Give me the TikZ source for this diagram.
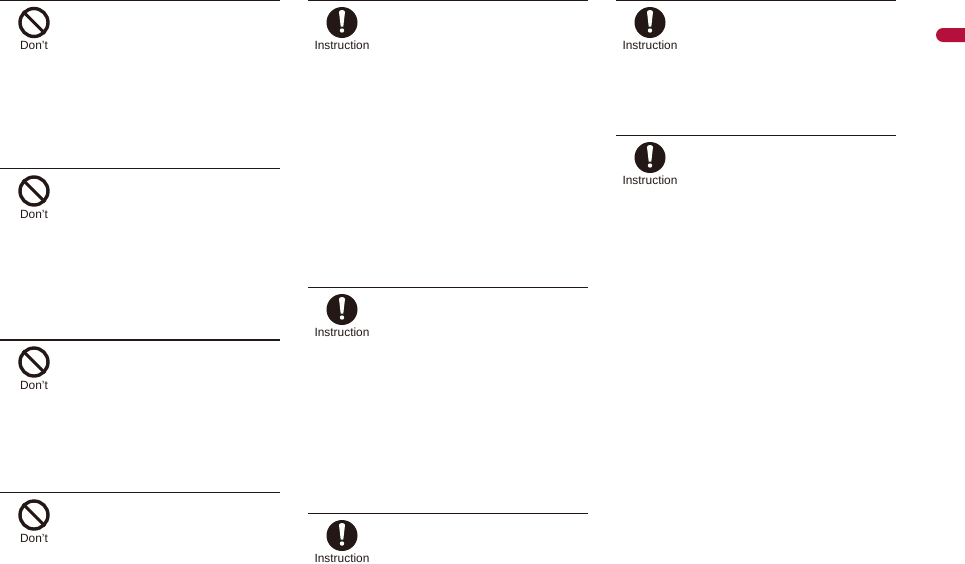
\documentclass[tikz,border=0pt]{standalone}
\usepackage{fontspec}
\setmainfont{Liberation Sans}
\definecolor{ink}{HTML}{231815}
\definecolor{tabred}{HTML}{B50F3C}
\tikzset{
  rule/.style={draw=ink,line width=1pt},
  iconlabel/.style={inner sep=0pt,font=\fontsize{11.9}{13}\selectfont,text=ink,anchor=base},
  ring/.style={circle,draw=ink,line width=3.4pt,minimum size=28pt,inner sep=0pt,fill=white},
  disc/.style={circle,fill=ink,minimum size=31pt,inner sep=0pt},
}
\newcommand{\dontblock}[6]{% name, x0, x1, line y, icon offset, label offset
  \coordinate (#1l) at (#2,#4);
  \coordinate (#1r) at (#3,#4);
  \draw[rule] (#1l) -- (#1r);
  \node[ring] (#1i) at (#2+34,#4+#5) {};
  \draw[ink,line width=3pt] (#1i.135) -- (#1i.-45);
  \node[iconlabel] (#1t) at (#2+34,#4+#6) {Don’t};
}
\newcommand{\instblock}[4]{%
  \coordinate (#1l) at (#2,#4);
  \coordinate (#1r) at (#3,#4);
  \draw[rule] (#1l) -- (#1r);
  \node[disc] (#1i) at (#2+34,#4+22) {};
  \fill[white] (#2+31,#4+11.5) to[out=90,in=90,looseness=1.1] (#2+37,#4+11.5) -- (#2+35.3,#4+26) -- (#2+32.7,#4+26) -- cycle;
  \fill[white] (#2+34,#4+30) circle (2.2);
  \node[iconlabel] (#1t) at (#2+34,#4+48.5) {Instruction};
}
\begin{document}
\begin{tikzpicture}[x=1pt,y=-1pt]
\useasboundingbox (0,0) rectangle (965,563);
\dontblock{a}{0}{280}{0.5}{22}{48.5}
\dontblock{b}{0}{280}{168.5}{22.5}{49.5}
\begin{scope}[rule/.append style={line width=1.8pt}]
\dontblock{c}{0}{280}{340}{22}{49}
\end{scope}
\dontblock{d}{0}{280}{492.5}{22.5}{49.5}
\instblock{e}{308}{588}{0.5}
\instblock{f}{308}{588}{287.5}
\instblock{g}{308}{588}{513.5}
\instblock{h}{616}{896}{0.5}
\instblock{i}{616}{896}{135.5}
\fill[tabred] (965,28) -- (943,28) arc[start angle=-90,end angle=-270,radius=7] -- (965,42) -- cycle;
\end{tikzpicture}
\end{document}
